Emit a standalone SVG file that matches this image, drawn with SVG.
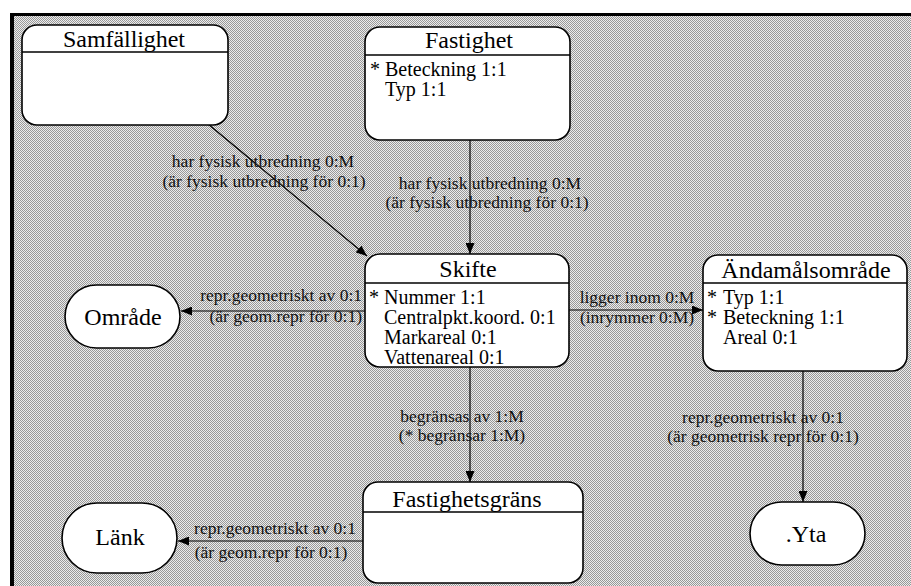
<svg xmlns="http://www.w3.org/2000/svg" width="911" height="586" viewBox="0 0 911 586">
  <defs>
    <pattern id="dither" width="2" height="2" patternUnits="userSpaceOnUse">
      <rect width="2" height="2" fill="#ececec"/>
      <rect width="1" height="1" fill="#989898"/>
      <rect x="1" y="1" width="1" height="1" fill="#989898"/>
    </pattern>
    <marker id="arrow" markerUnits="userSpaceOnUse" markerWidth="11" markerHeight="9" refX="11" refY="4.5" orient="auto">
      <path d="M0,0 L11,4.5 L0,9 z" fill="#000"/>
    </marker>
    <style>
      .box { fill: #fff; stroke: #000; stroke-width: 1.6; }
      .div { stroke: #000; stroke-width: 1.3; }
      text { font-family: 'Liberation Serif', 'Times New Roman', 'DejaVu Serif', serif; }
      .title { font-size: 24px; fill: #000; text-anchor: middle; }
      .attr { font-size: 20px; fill: #000; }
      .lbl { font-size: 17.5px; fill: #111; }
      .conn line { stroke: #000; stroke-width: 1.2; marker-end: url(#arrow); }
    </style>
  </defs>

  <!-- page and frame -->
  <rect width="911" height="586" fill="#fff"/>
  <rect x="12" y="15" width="899" height="571" fill="url(#dither)"/>
  <line x1="10" y1="14.5" x2="911" y2="14.5" stroke="#000" stroke-width="3"/>
  <line x1="12" y1="13" x2="12" y2="586" stroke="#000" stroke-width="4"/>

  <g font-family="Liberation Serif, Times New Roman, serif">
  <!-- connectors -->
  <g id="connectors" class="conn">
    <line x1="208" y1="124" x2="367" y2="256"/>
    <line x1="470" y1="140" x2="470" y2="254"/>
    <line x1="365" y1="311" x2="181" y2="311"/>
    <line x1="569" y1="310" x2="703" y2="310"/>
    <line x1="470" y1="367" x2="470" y2="482"/>
    <line x1="803" y1="371" x2="803" y2="502"/>
    <line x1="363" y1="541" x2="178" y2="541"/>

    <text class="lbl" x="263" y="167" text-anchor="middle">har fysisk utbredning 0:M</text>
    <text class="lbl" x="264" y="187" text-anchor="middle">(är fysisk utbredning för 0:1)</text>

    <text class="lbl" x="490" y="189" text-anchor="middle">har fysisk utbredning 0:M</text>
    <text class="lbl" x="487" y="208" text-anchor="middle">(är fysisk utbredning för 0:1)</text>

    <text class="lbl" x="362" y="301" text-anchor="end">repr.geometriskt av 0:1</text>
    <text class="lbl" x="362" y="322" text-anchor="end">(är geom.repr för 0:1)</text>

    <text class="lbl" x="637" y="303" text-anchor="middle">ligger inom 0:M</text>
    <text class="lbl" x="637" y="323" text-anchor="middle">(inrymmer 0:M)</text>

    <text class="lbl" x="462" y="422" text-anchor="middle">begränsas av 1:M</text>
    <text class="lbl" x="462" y="441" text-anchor="middle">(* begränsar 1:M)</text>

    <text class="lbl" x="763" y="423" text-anchor="middle">repr.geometriskt av 0:1</text>
    <text class="lbl" x="763" y="442" text-anchor="middle">(är geometrisk repr för 0:1)</text>

    <text class="lbl" x="275" y="534" text-anchor="middle">repr.geometriskt av 0:1</text>
    <text class="lbl" x="271" y="558" text-anchor="middle">(är geom.repr för 0:1)</text>
  </g>

  <!-- entity: Samfällighet -->
  <g id="samfallighet">
    <rect class="box" x="22" y="25" width="206" height="100" rx="15"/>
    <line class="div" x1="22" y1="52" x2="228" y2="52"/>
    <text class="title" x="124" y="47" textLength="122" lengthAdjust="spacing">Samfällighet</text>
  </g>

  <!-- entity: Fastighet -->
  <g id="fastighet">
    <rect class="box" x="365" y="27" width="205" height="113" rx="15"/>
    <line class="div" x1="365" y1="55" x2="570" y2="55"/>
    <text class="title" x="469" y="48">Fastighet</text>
    <text class="attr" x="370" y="76">*</text>
    <text class="attr" x="385" y="76">Beteckning 1:1</text>
    <text class="attr" x="385" y="96">Typ 1:1</text>
  </g>

  <!-- entity: Skifte -->
  <g id="skifte">
    <rect class="box" x="365" y="254" width="204" height="113" rx="15"/>
    <line class="div" x1="365" y1="283" x2="569" y2="283"/>
    <text class="title" x="468" y="277">Skifte</text>
    <text class="attr" x="369" y="304">*</text>
    <text class="attr" x="384" y="304">Nummer 1:1</text>
    <text class="attr" x="384" y="324">Centralpkt.koord. 0:1</text>
    <text class="attr" x="384" y="344">Markareal 0:1</text>
    <text class="attr" x="384" y="364">Vattenareal 0:1</text>
  </g>

  <!-- entity: Ändamålsområde -->
  <g id="andamalsomrade">
    <rect class="box" x="703" y="255" width="204" height="116" rx="15"/>
    <line class="div" x1="703" y1="283" x2="907" y2="283"/>
    <text class="title" x="806" y="278">Ändamålsområde</text>
    <text class="attr" x="707" y="304">*</text>
    <text class="attr" x="723" y="304">Typ 1:1</text>
    <text class="attr" x="707" y="324">*</text>
    <text class="attr" x="723" y="324">Beteckning 1:1</text>
    <text class="attr" x="723" y="344">Areal 0:1</text>
  </g>

  <!-- entity: Fastighetsgräns -->
  <g id="fastighetsgrans">
    <rect class="box" x="363" y="482" width="220" height="101" rx="15"/>
    <line class="div" x1="363" y1="512" x2="583" y2="512"/>
    <text class="title" x="467" y="507">Fastighetsgräns</text>
  </g>

  <!-- geometry: Område -->
  <g id="omrade">
    <rect class="box" x="65" y="285" width="115" height="63" rx="31.5"/>
    <text class="title" x="123" y="325">Område</text>
  </g>

  <!-- geometry: Länk -->
  <g id="lank">
    <rect class="box" x="62" y="503" width="115" height="70" rx="35"/>
    <text class="title" x="120" y="545">Länk</text>
  </g>

  <!-- geometry: Yta -->
  <g id="yta">
    <rect class="box" x="750" y="502" width="115" height="63" rx="31.5"/>
    <text class="title" x="806" y="542">.Yta</text>
  </g>
  </g>
</svg>
